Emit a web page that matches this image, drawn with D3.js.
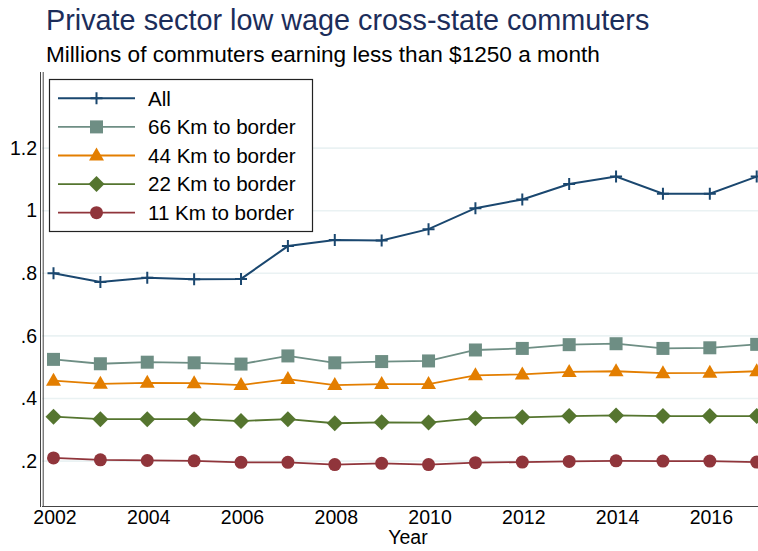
<!DOCTYPE html>
<html>
<head>
<meta charset="utf-8">
<script src="https://cdn.jsdelivr.net/npm/d3@7"></script>
<style>
  body { margin: 0; background: #fff; }
  svg { display: block; font-family: "Liberation Sans", Arial, sans-serif; }
</style>
</head>
<body>
<svg id="chart" width="758" height="551"></svg>
<script>
const years = [2002,2003,2004,2005,2006,2007,2008,2009,2010,2011,2012,2013,2014,2015,2016,2017];
const allKm  = [0.800,0.772,0.786,0.781,0.782,0.887,0.906,0.905,0.941,1.008,1.036,1.085,1.109,1.054,1.054,1.109];
const km66   = [0.525,0.511,0.516,0.514,0.510,0.536,0.514,0.518,0.520,0.555,0.560,0.572,0.575,0.560,0.562,0.573];
const km44   = [0.457,0.447,0.450,0.449,0.443,0.462,0.443,0.446,0.446,0.474,0.477,0.485,0.487,0.481,0.482,0.487];
const km22   = [0.342,0.334,0.334,0.334,0.328,0.334,0.321,0.324,0.323,0.337,0.340,0.344,0.346,0.344,0.344,0.344];
const km11   = [0.210,0.204,0.202,0.201,0.196,0.196,0.189,0.193,0.189,0.195,0.197,0.199,0.201,0.200,0.200,0.197];
const seriesNames = ["All","66 Km to border","44 Km to border","22 Km to border","11 Km to border"];
const yTicks = [0.2,0.4,0.6,0.8,1.0,1.2];
const yTickLabels = [".2",".4",".6",".8","1","1.2"];
const xTicks = [2002,2004,2006,2008,2010,2012,2014,2016];

const series = [
  {name: seriesNames[0], values: allKm, color: "#1a476f", symbol: "plus"},
  {name: seriesNames[1], values: km66,  color: "#6e8e84", symbol: "square"},
  {name: seriesNames[2], values: km44,  color: "#e37e00", symbol: "triangle"},
  {name: seriesNames[3], values: km22,  color: "#55752f", symbol: "diamond"},
  {name: seriesNames[4], values: km11,  color: "#90353b", symbol: "circle"}
];

const svg = d3.select("#chart");
const plotLeft = 42, plotRight = 758, plotTop = 72, plotBottom = 506;

const x = d3.scaleLinear().domain([2002, 2017]).range([53.5, 756.7]);
const y = d3.scaleLinear().domain([0.2, 1.2]).range([461.1, 148.1]);

// Title
svg.append("text").attr("x", 46).attr("y", 29.5)
  .attr("font-size", 28.8).attr("fill", "#1c2d5a")
  .text("Private sector low wage cross-state commuters");
svg.append("text").attr("x", 46).attr("y", 61.5)
  .attr("font-size", 22.6).attr("fill", "#000")
  .text("Millions of commuters earning less than $1250 a month");

// Gridlines
svg.append("g").selectAll("line").data(yTicks).join("line")
  .attr("x1", plotLeft).attr("x2", plotRight)
  .attr("y1", d => y(d)).attr("y2", d => y(d))
  .attr("stroke", "#eaf2f3").attr("stroke-width", 1.6);

// Y axis
const yAxis = d3.axisLeft(y).tickValues(yTicks)
  .tickFormat((d, i) => yTickLabels[i]).tickSize(0).tickPadding(0);
const gy = svg.append("g").attr("transform", `translate(37,0)`).call(yAxis);
gy.select(".domain").remove();
gy.selectAll("text").attr("font-size", 19.5).attr("fill", "#000")
  .attr("font-family", "Liberation Sans, Arial, sans-serif");

// X axis
const xAxis = d3.axisBottom(x).tickValues(xTicks).tickFormat(d3.format("d")).tickSize(0).tickPadding(0);
const gx = svg.append("g").attr("transform", `translate(1,${plotBottom + 4})`).call(xAxis);
gx.select(".domain").remove();
gx.selectAll("text").attr("font-size", 19.5).attr("fill", "#000")
  .attr("font-family", "Liberation Sans, Arial, sans-serif");

svg.append("text").attr("x", 408).attr("y", 544).attr("text-anchor", "middle")
  .attr("font-size", 19.5).attr("fill", "#000").text("Year");

// Axis frame lines (left and bottom)
svg.append("line").attr("x1", 40.5).attr("x2", 40.5).attr("y1", plotTop).attr("y2", plotBottom + 1)
  .attr("stroke", "#444").attr("stroke-width", 1);
svg.append("line").attr("x1", 43.2).attr("x2", 43.2).attr("y1", plotTop).attr("y2", plotBottom)
  .attr("stroke", "#444").attr("stroke-width", 1);
svg.append("line").attr("x1", 42).attr("x2", plotRight).attr("y1", plotBottom + 0.5).attr("y2", plotBottom + 0.5)
  .attr("stroke", "#444").attr("stroke-width", 1.2);

// Marker drawing
function drawMarker(g, symbol, color) {
  if (symbol === "plus") {
    g.append("path").attr("d", "M-6,0H6M0,-6V6").attr("stroke", color).attr("stroke-width", 2).attr("fill", "none");
  } else if (symbol === "square") {
    g.append("rect").attr("x", -6.5).attr("y", -6.5).attr("width", 13).attr("height", 13).attr("fill", color);
  } else if (symbol === "triangle") {
    g.append("path").attr("d", "M0,-8L7.5,5L-7.5,5Z").attr("fill", color);
  } else if (symbol === "diamond") {
    g.append("path").attr("d", "M0,-8L8,0L0,8L-8,0Z").attr("fill", color);
  } else if (symbol === "circle") {
    g.append("circle").attr("r", 6.5).attr("fill", color);
  }
}

const line = d3.line().x((d, i) => x(years[i])).y(d => y(d));

series.slice().reverse().forEach(s => {
  const g = svg.append("g");
  g.append("path").datum(s.values).attr("d", line)
    .attr("fill", "none").attr("stroke", s.color).attr("stroke-width", s.symbol === "plus" ? 2 : 1.8);
  s.values.forEach((v, i) => {
    const mg = g.append("g").attr("transform", `translate(${x(years[i])},${y(v)})`);
    drawMarker(mg, s.symbol, s.color);
  });
});

// Legend
const legend = svg.append("g");
legend.append("rect").attr("x", 49.5).attr("y", 79.5).attr("width", 263).attr("height", 152)
  .attr("fill", "#fff").attr("stroke", "#222").attr("stroke-width", 1.2);
series.forEach((s, i) => {
  const ly = 98.3 + i * 28.6;
  legend.append("line").attr("x1", 58).attr("x2", 135).attr("y1", ly).attr("y2", ly)
    .attr("stroke", s.color).attr("stroke-width", s.symbol === "plus" ? 2 : 1.8);
  const mg = legend.append("g").attr("transform", `translate(96.5,${ly})`);
  drawMarker(mg, s.symbol, s.color);
  legend.append("text").attr("x", 148).attr("y", ly + 7.3).attr("font-size", 20.6)
    .attr("fill", "#000").text(s.name);
});
</script>
</body>
</html>
